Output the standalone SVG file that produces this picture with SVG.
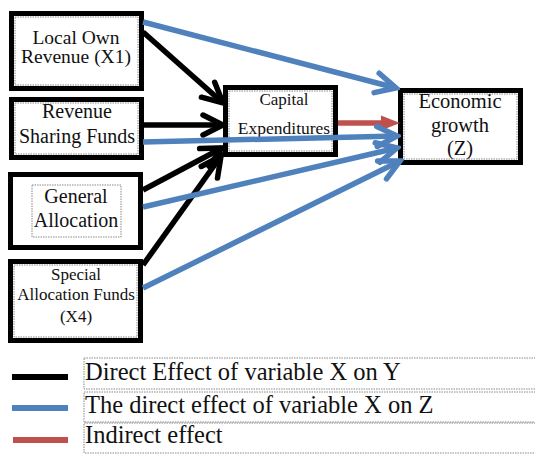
<svg xmlns="http://www.w3.org/2000/svg" width="535" height="455" viewBox="0 0 535 455">
<style>
.box{fill:#fff;stroke:#000;stroke-width:5}
.inner{fill:none;stroke:#888;stroke-width:1;stroke-dasharray:1.5 1}
.t{font-family:"Liberation Serif","Times New Roman",serif;fill:#111;text-anchor:middle}
.lg{font-family:"Liberation Serif","Times New Roman",serif;fill:#111;font-size:24.5px}
.blk{stroke:#000;stroke-width:5.5;fill:none}
.blu{stroke:#4F81BD;stroke-width:5.5;fill:none}
.red{stroke:#C0504D;stroke-width:5.5;fill:none}
</style>
<defs>
<marker id="ab" markerUnits="userSpaceOnUse" viewBox="-26 -14 30 28" markerWidth="30" markerHeight="28" refX="0" refY="0" orient="auto">
<path d="M-20,-10 L0,0 L-20,10" fill="none" stroke="#000" stroke-width="5.5" stroke-linecap="round"/>
</marker>
<marker id="au" markerUnits="userSpaceOnUse" viewBox="-26 -14 30 28" markerWidth="30" markerHeight="28" refX="0" refY="0" orient="auto">
<path d="M-20,-10 L0,0 L-20,10" fill="none" stroke="#4F81BD" stroke-width="5.5" stroke-linecap="round"/>
</marker>
<clipPath id="capclip"><rect x="228" y="88" width="108" height="49"/></clipPath>
</defs>

<g id="n1">
<rect class="box" x="11.5" y="13.5" width="130" height="75"/>
<rect class="inner" x="15" y="17" width="123" height="68"/>
<text class="t" font-size="19.5" x="76" y="44">Local Own</text>
<text class="t" font-size="19.5" x="76" y="63">Revenue (X1)</text>
</g>
<g id="n2">
<rect class="box" x="11.5" y="99.5" width="130" height="58"/>
<rect class="inner" x="15" y="103" width="123" height="51"/>
<text class="t" font-size="20" x="77" y="118">Revenue</text>
<text class="t" font-size="20" x="77" y="143">Sharing Funds</text>
</g>
<g id="n3">
<rect class="box" x="10.5" y="174.5" width="130" height="73"/>
<rect class="inner" x="32" y="185" width="89" height="52"/>
<text class="t" font-size="20" x="76" y="203">General</text>
<text class="t" font-size="20" x="76" y="227">Allocation</text>
</g>
<g id="n4">
<rect class="box" x="10.5" y="261.5" width="130" height="79"/>
<rect class="inner" x="14" y="265" width="123" height="72"/>
<text class="t" font-size="17" x="76" y="280">Special</text>
<text class="t" font-size="17" x="76" y="300">Allocation Funds</text>
<text class="t" font-size="17" x="76" y="322">(X4)</text>
</g>
<g id="n5">
<rect class="box" x="225.5" y="87.5" width="110" height="67"/>
<rect class="inner" x="229" y="91" width="103" height="60"/>
<text class="t" font-size="17" x="284" y="105">Capital</text>
<text class="t" font-size="17.5" x="284" y="134" clip-path="url(#capclip)">Expenditures</text>
</g>
<g id="n6">
<rect class="box" x="400.5" y="90.5" width="120" height="72"/>
<rect class="inner" x="404" y="94" width="113" height="65"/>
<text class="t" font-size="20.5" x="460" y="108">Economic</text>
<text class="t" font-size="20.5" x="460" y="132">growth</text>
<text class="t" font-size="20.5" x="460" y="155">(Z)</text>
</g>

<g id="connectors">
<line class="blk" x1="143" y1="32" x2="223" y2="103" marker-end="url(#ab)"/>
<line class="blk" x1="143" y1="125" x2="223" y2="125" marker-end="url(#ab)"/>
<line class="blk" x1="143" y1="190" x2="222" y2="148" marker-end="url(#ab)"/>
<line class="blk" x1="143" y1="265" x2="221" y2="156" marker-end="url(#ab)"/>
<line class="red" x1="338" y1="123" x2="384" y2="123"/>
<path d="M381,115.5 L400,123 L381,130.5 Z" fill="#C0504D"/>
<line class="blu" x1="143" y1="22" x2="396" y2="88" marker-end="url(#au)"/>
<line class="blu" x1="143" y1="142" x2="397" y2="136" marker-end="url(#au)"/>
<line class="blu" x1="143" y1="207" x2="397" y2="148" marker-end="url(#au)"/>
<line class="blu" x1="143" y1="288" x2="400" y2="161" marker-end="url(#au)"/>
</g>

<g id="legend">
<line x1="12" y1="377" x2="68" y2="377" stroke="#000" stroke-width="6"/>
<line x1="12" y1="408" x2="68" y2="408" stroke="#4F81BD" stroke-width="6"/>
<line x1="13" y1="440" x2="68" y2="440" stroke="#C0504D" stroke-width="6"/>
<rect class="inner" x="84" y="358" width="460" height="31"/>
<rect class="inner" x="84" y="392" width="460" height="30"/>
<rect class="inner" x="84" y="423" width="460" height="30"/>
<text class="lg" x="85" y="380">Direct Effect of variable X on Y</text>
<text class="lg" x="85" y="413">The direct effect of variable X on Z</text>
<text class="lg" x="85" y="443">Indirect effect</text>
</g>
</svg>
